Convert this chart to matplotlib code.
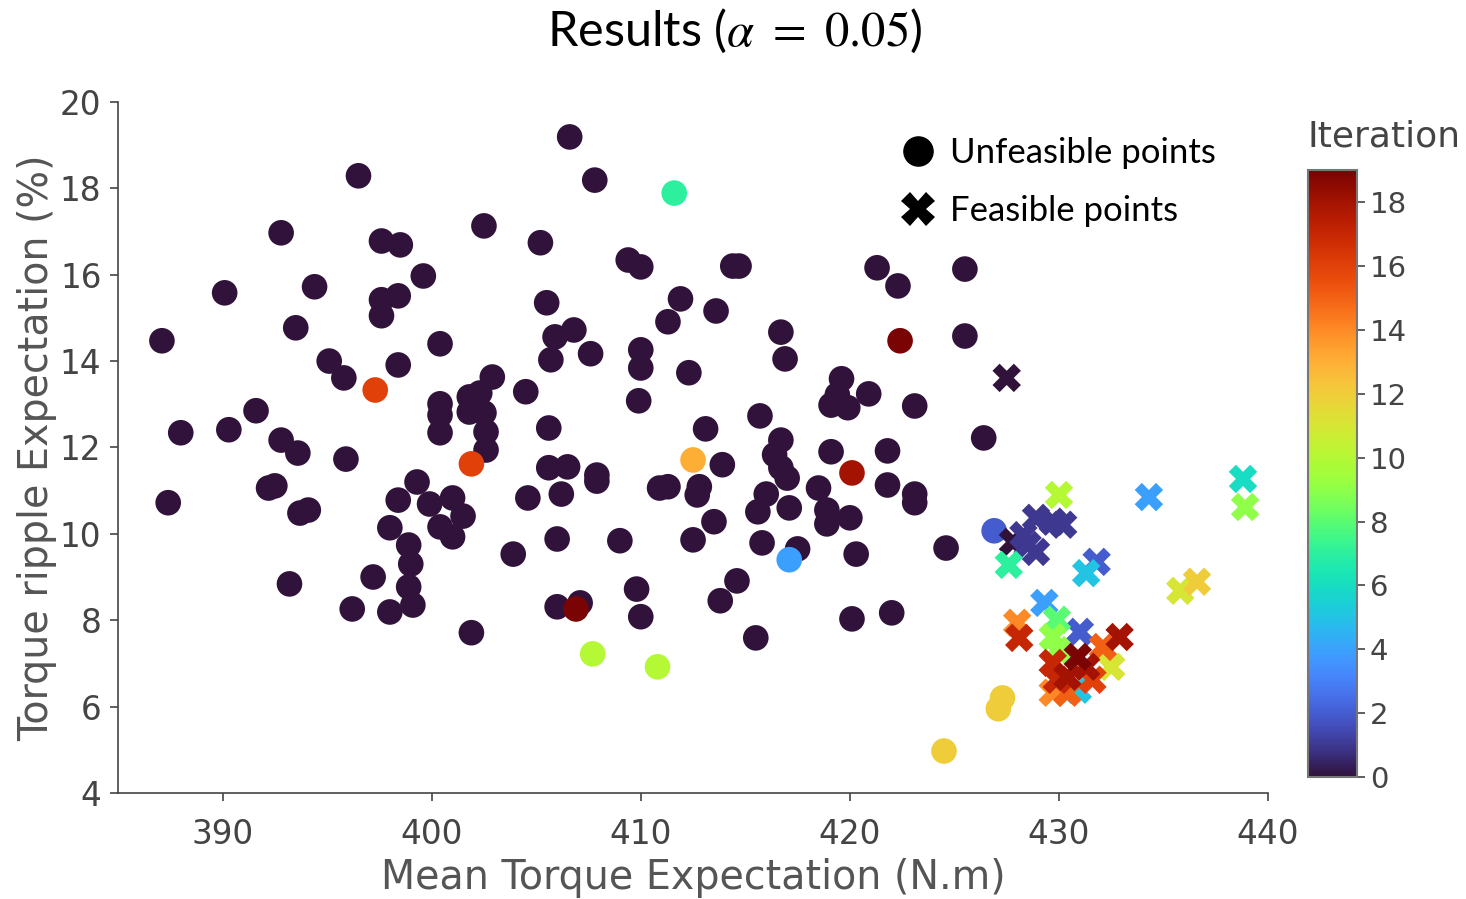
import numpy as np
import matplotlib.pyplot as plt
from matplotlib.lines import Line2D

# unfeasible points (circles)
unf_x = [387.1, 387.4, 388.0, 390.3, 390.1, 391.6, 392.8, 392.8, 392.2, 392.5,
         393.2, 393.6, 393.5, 393.7, 394.1, 394.4, 395.1, 395.8, 395.9, 396.5,
         396.2, 397.2, 397.6, 397.6, 397.6, 398.5, 398.4, 398.4, 398.0, 398.0,
         398.4, 398.9, 399.3, 399.6, 399.0, 398.9, 399.1, 399.9, 400.4, 400.4,
         400.4, 400.4, 400.4, 401.0, 401.0, 401.5, 401.8, 401.8, 402.3, 402.5,
         402.6, 402.6, 401.9, 402.5, 402.9, 403.9, 404.5, 404.6, 405.2, 405.5,
         405.9, 405.7, 405.6, 405.6, 406.2, 406.0, 406.5, 406.0, 406.8, 406.6,
         407.1, 407.6, 407.8, 407.9, 407.9, 409.0, 409.4, 410.0, 410.0, 410.0,
         409.9, 409.8, 410.0, 411.3, 410.9, 411.3, 411.9, 412.3, 412.7, 412.8,
         412.5, 413.1, 413.5, 413.6, 413.9, 413.8, 414.4, 414.7, 414.6, 415.5,
         415.7, 415.8, 415.6, 416.7, 416.4, 416.7, 416.0, 416.7, 416.9, 417.0,
         417.1, 417.5, 418.5, 418.9, 419.1, 419.1, 419.6, 419.4, 419.9, 418.9,
         420.0, 420.3, 420.1, 420.9, 421.3, 422.3, 421.8, 421.8, 422.0, 423.1,
         423.1, 423.1, 424.6, 425.5, 425.5, 426.4,
         411.6, 422.4, 397.3, 401.9, 412.5, 420.1, 406.9, 417.1, 407.7, 410.8,
         427.3, 427.1, 424.5, 426.9]
unf_y = [14.47, 10.72, 12.34, 12.41, 15.58, 12.85, 16.97, 12.17, 11.06, 11.11,
         8.84, 11.87, 14.77, 10.48, 10.55, 15.72, 14.00, 13.61, 11.73, 18.29,
         8.26, 9.00, 16.78, 15.42, 15.05, 16.69, 15.51, 13.91, 10.14, 8.19,
         10.78, 9.74, 11.20, 15.97, 9.30, 8.77, 8.35, 10.69, 14.40, 13.01,
         12.75, 12.34, 10.16, 9.93, 10.83, 10.41, 13.17, 12.82, 13.26, 12.80,
         12.36, 11.94, 7.71, 17.13, 13.63, 9.53, 13.29, 10.83, 16.74, 15.35,
         14.56, 14.03, 12.45, 11.53, 10.92, 9.88, 11.55, 8.31, 14.72, 19.19,
         8.40, 14.17, 18.19, 11.36, 11.22, 9.84, 16.34, 16.18, 14.26, 13.84,
         13.08, 8.72, 8.08, 14.91, 11.06, 11.09, 15.44, 13.73, 10.90, 11.09,
         9.86, 12.43, 10.28, 15.16, 11.60, 8.45, 16.20, 16.20, 8.91, 7.59,
         12.73, 9.79, 10.51, 12.17, 11.83, 11.53, 10.92, 14.67, 14.05, 11.29,
         10.60, 9.65, 11.06, 10.23, 11.90, 12.98, 13.59, 13.22, 12.92, 10.55,
         10.37, 9.53, 8.03, 13.24, 16.16, 15.74, 11.92, 11.13, 8.17, 10.92,
         12.96, 10.72, 9.67, 16.13, 14.58, 12.22,
         17.89, 14.47, 13.33, 11.62, 11.71, 11.41, 8.26, 9.40, 7.22, 6.92,
         6.20, 5.95, 4.97, 10.07]
unf_it = [0] * 136 + [7, 19, 16, 16, 13, 18, 19, 4, 10, 10, 12, 12, 12, 2]

# feasible points (crosses)
fea_x = [427.5, 427.8, 428.9, 430.2, 429.7, 428.3, 428.9, 428.5, 431.8, 430.9,
         431.0, 431.3, 429.3, 427.6, 429.9, 434.3, 438.8, 438.9, 435.8, 436.6,
         430.0, 429.7, 429.9, 432.5, 428.0, 429.7, 430.4, 432.1, 431.6, 428.1,
         429.7, 429.9, 430.4, 431.3, 432.9, 430.9]
fea_y = [13.61, 9.81, 10.37, 10.21, 10.28, 9.97, 9.58, 9.74, 9.35, 6.39,
         7.73, 9.09, 8.40, 9.28, 8.01, 10.85, 11.27, 10.62, 8.68, 8.89,
         10.90, 7.61, 7.31, 6.92, 7.94, 6.32, 6.32, 7.38, 6.62, 7.59,
         7.01, 6.62, 6.69, 6.92, 7.61, 7.15]
fea_it = [0, 0, 1, 1, 1, 1, 1, 1, 2, 5,
          2, 5, 4, 7, 8, 4, 6, 9, 11, 12,
          10, 9, 9, 11, 14, 14, 15, 15, 16, 17,
          17, 17, 18, 18, 18, 19]

plt.rcParams['font.family'] = 'DejaVu Sans'
plt.rcParams['mathtext.fontset'] = 'stix'
grey = '#444444'

fig = plt.figure(figsize=(14.66, 8.99), dpi=100)
ax = fig.add_axes([0.0805, 0.118, 0.7845, 0.7686])
cax = fig.add_axes([0.892, 0.1357, 0.0334, 0.675])

cmap = plt.get_cmap('turbo')
sc = ax.scatter(unf_x, unf_y, c=unf_it, cmap=cmap, vmin=0, vmax=19, s=340,
                marker='o', linewidths=0, zorder=2)
ax.scatter(fea_x, fea_y, c=fea_it, cmap=cmap, vmin=0, vmax=19, s=420,
           marker='X', linewidths=0, zorder=3)

ax.set_xlim(385, 440)
ax.set_ylim(4, 20)
ax.set_xticks([390, 400, 410, 420, 430, 440])
ax.set_yticks(range(4, 21, 2))
for s in ['top', 'right']:
    ax.spines[s].set_visible(False)
for s in ['left', 'bottom']:
    ax.spines[s].set_color(grey)
    ax.spines[s].set_linewidth(1.2)
ax.tick_params(colors=grey, labelsize=23.5, length=6, width=1.2)
ax.tick_params(axis='x', pad=12)
ax.tick_params(axis='y', pad=6)
ax.set_xlabel('Mean Torque Expectation (N.m)', fontsize=28.5, color='#555555', labelpad=5)
ax.set_ylabel('Torque ripple Expectation (%)', fontsize=28.5, color='#555555', labelpad=2)

cb = fig.colorbar(sc, cax=cax)
cb.set_ticks(range(0, 19, 2))
cb.ax.tick_params(colors=grey, labelsize=21, length=6, width=1.2)
cb.outline.set_edgecolor('#777777')
cb.outline.set_linewidth(1.5)
fig.text(0.944, 0.848, 'Iteration', fontsize=26, color=grey, ha='center', va='center')

fig.text(0.501, 0.966, r'Results ($\alpha\ =\ 0.05$)', fontsize=35,
         family='Lato', ha='center', va='center')

handles = [Line2D([], [], marker='o', color='black', linestyle='', markersize=21),
           Line2D([], [], marker='X', color='black', linestyle='', markersize=24,
                  markeredgewidth=0)]
fig.legend(handles, ['Unfeasible points', 'Feasible points'], loc='upper left',
           bbox_to_anchor=(0.591, 0.882), frameon=False, handletextpad=0.3,
           handlelength=1.2, labelspacing=0.75, prop={'family': 'Lato', 'size': 25})

fig.savefig('out.png', dpi=100)
